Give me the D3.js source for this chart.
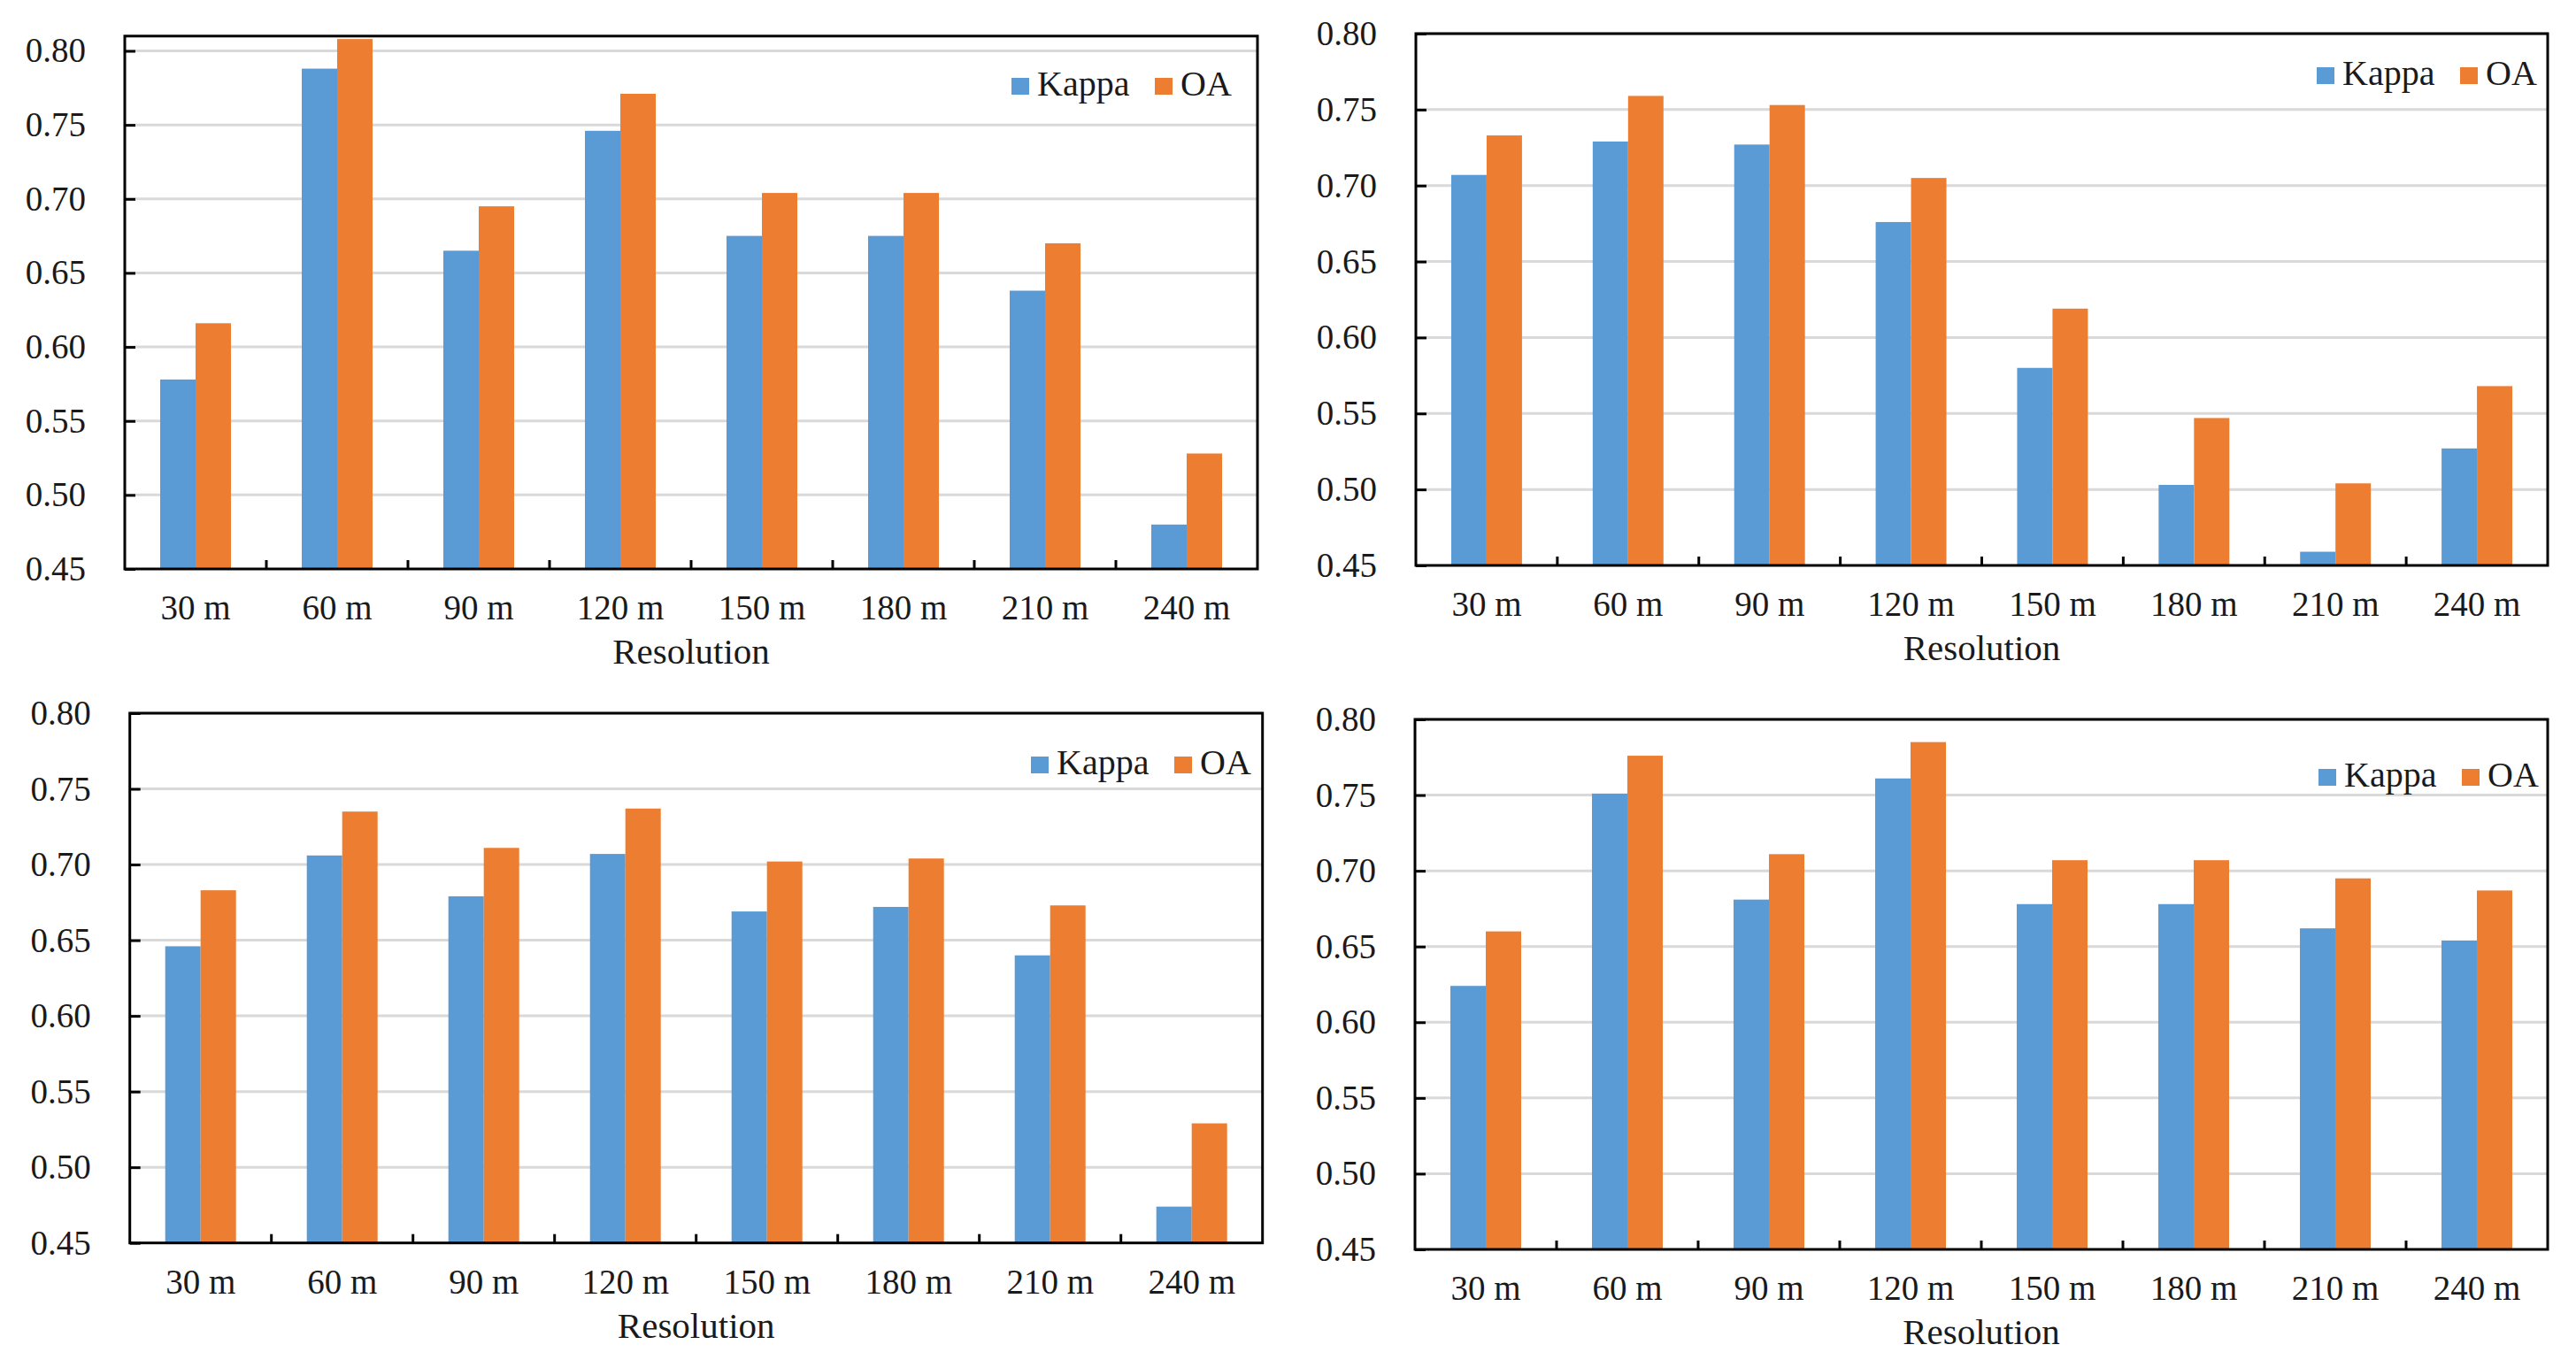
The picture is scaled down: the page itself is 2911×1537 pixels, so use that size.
<!DOCTYPE html>
<html>
<head>
<meta charset="utf-8">
<script src="https://cdn.jsdelivr.net/npm/d3@7"></script>
<style>
  html, body { margin: 0; padding: 0; background: #fff; }
  svg { display: block; }
</style>
</head>
<body>
<svg id="chart" width="2911" height="1537"></svg>
<script>
// ---------- data ----------
const categories = ["30 m", "60 m", "90 m", "120 m", "150 m", "180 m", "210 m", "240 m"];
const seriesNames = ["Kappa", "OA"];
const yTickValues = [0.45, 0.50, 0.55, 0.60, 0.65, 0.70, 0.75, 0.80];
const xAxisTitle = "Resolution";

const panelAKappa = [0.578, 0.788, 0.665, 0.746, 0.675, 0.675, 0.638, 0.480];
const panelAOA    = [0.616, 0.808, 0.695, 0.771, 0.704, 0.704, 0.670, 0.528];

const panelBKappa = [0.707, 0.729, 0.727, 0.676, 0.580, 0.503, 0.459, 0.527];
const panelBOA    = [0.733, 0.759, 0.753, 0.705, 0.619, 0.547, 0.504, 0.568];

const panelCKappa = [0.646, 0.706, 0.679, 0.707, 0.669, 0.672, 0.640, 0.474];
const panelCOA    = [0.683, 0.735, 0.711, 0.737, 0.702, 0.704, 0.673, 0.529];

const panelDKappa = [0.624, 0.751, 0.681, 0.761, 0.678, 0.678, 0.662, 0.654];
const panelDOA    = [0.660, 0.776, 0.711, 0.785, 0.707, 0.707, 0.695, 0.687];

const yMaxByPanel = [0.81, 0.80, 0.80, 0.80];

// ---------- layout / style ----------
const colors = { Kappa: "#5B9BD5", OA: "#ED7D31" };
const FONT = "'Liberation Serif', 'Times New Roman', serif";

const layouts = [
  { left: 141,   right: 1421, y45: 643,    y80: 57.5, legX: 1143, legY: 88 },
  { left: 1600,  right: 2879, y45: 639,    y80: 38,   legX: 2618, legY: 76 },
  { left: 146.7, right: 1426.7, y45: 1404.7, y80: 806,  legX: 1165, legY: 855 },
  { left: 1599,  right: 2879, y45: 1412,   y80: 813,  legX: 2620, legY: 869 }
];

const panelsData = [
  [panelAKappa, panelAOA],
  [panelBKappa, panelBOA],
  [panelCKappa, panelCOA],
  [panelDKappa, panelDOA]
];

const svg = d3.select("#chart");

panelsData.forEach((vals, pi) => {
  const L = layouts[pi];
  const yMax = yMaxByPanel[pi];
  // y scale defined by the 0.45 and 0.80 positions, extended to yMax
  const pxPerUnit = (L.y45 - L.y80) / (0.80 - 0.45);
  const yTop = L.y45 - (yMax - 0.45) * pxPerUnit;
  const y = d3.scaleLinear().domain([0.45, yMax]).range([L.y45, yTop]);

  const x = d3.scaleBand().domain(categories).range([L.left, L.right]).padding(0);
  const x1 = d3.scaleBand().domain(seriesNames).range([0, x.bandwidth()])
    .paddingInner(0).paddingOuter(1);

  const g = svg.append("g");

  // gridlines
  g.append("g").selectAll("line")
    .data(yTickValues.filter(v => v > 0.45))
    .join("line")
    .attr("x1", L.left).attr("x2", L.right)
    .attr("y1", d => y(d)).attr("y2", d => y(d))
    .attr("stroke", "#d9d9d9").attr("stroke-width", 3);

  // bars
  const rows = categories.map((c, i) => ({ cat: c, Kappa: vals[0][i], OA: vals[1][i] }));
  g.append("g").selectAll("g")
    .data(rows)
    .join("g")
    .attr("transform", d => `translate(${x(d.cat)},0)`)
    .selectAll("rect")
    .data(d => seriesNames.map(s => ({ s, v: d[s] })))
    .join("rect")
    .attr("x", d => x1(d.s))
    .attr("width", x1.bandwidth())
    .attr("y", d => y(d.v))
    .attr("height", d => y(0.45) - y(d.v))
    .attr("fill", d => colors[d.s]);

  // frame
  g.append("rect")
    .attr("x", L.left).attr("y", yTop)
    .attr("width", L.right - L.left).attr("height", L.y45 - yTop)
    .attr("fill", "none").attr("stroke", "#000").attr("stroke-width", 3);

  // y axis
  const yAxis = d3.axisLeft(y).tickValues(yTickValues)
    .tickFormat(d3.format(".2f")).tickSizeInner(-12).tickSizeOuter(0).tickPadding(44);
  const ya = g.append("g").attr("transform", `translate(${L.left},0)`).call(yAxis);
  ya.select(".domain").remove();
  ya.selectAll(".tick line").attr("stroke", "#000").attr("stroke-width", 3);
  ya.selectAll(".tick text")
    .attr("font-family", FONT).attr("font-size", 39).attr("fill", "#1a1a1a");

  // x axis labels
  const xAxis = d3.axisBottom(x).tickSize(0).tickPadding(0);
  const xa = g.append("g").attr("transform", `translate(0,${L.y45})`).call(xAxis);
  xa.select(".domain").remove();
  xa.selectAll(".tick text")
    .attr("font-family", FONT).attr("font-size", 39).attr("fill", "#1a1a1a")
    .attr("dy", null).attr("y", 57);

  // x boundary ticks (inward)
  g.append("g").selectAll("line")
    .data(categories.slice(1))
    .join("line")
    .attr("x1", d => x(d)).attr("x2", d => x(d))
    .attr("y1", L.y45).attr("y2", L.y45 - 10)
    .attr("stroke", "#000").attr("stroke-width", 3);

  // x axis title
  g.append("text")
    .attr("x", (L.left + L.right) / 2).attr("y", L.y45 + 107)
    .attr("text-anchor", "middle")
    .attr("font-family", FONT).attr("font-size", 41).attr("fill", "#1a1a1a")
    .text(xAxisTitle);

  // legend
  const legOffsets = { Kappa: 0, OA: 162 };
  const lg = g.append("g").attr("transform", `translate(${L.legX},${L.legY})`);
  seriesNames.forEach(s => {
    lg.append("rect").attr("x", legOffsets[s]).attr("y", 0)
      .attr("width", 20).attr("height", 19).attr("fill", colors[s]);
    lg.append("text").attr("x", legOffsets[s] + 29).attr("y", 20)
      .attr("font-family", FONT).attr("font-size", 40).attr("fill", "#1a1a1a")
      .text(s);
  });
});
</script>
</body>
</html>
